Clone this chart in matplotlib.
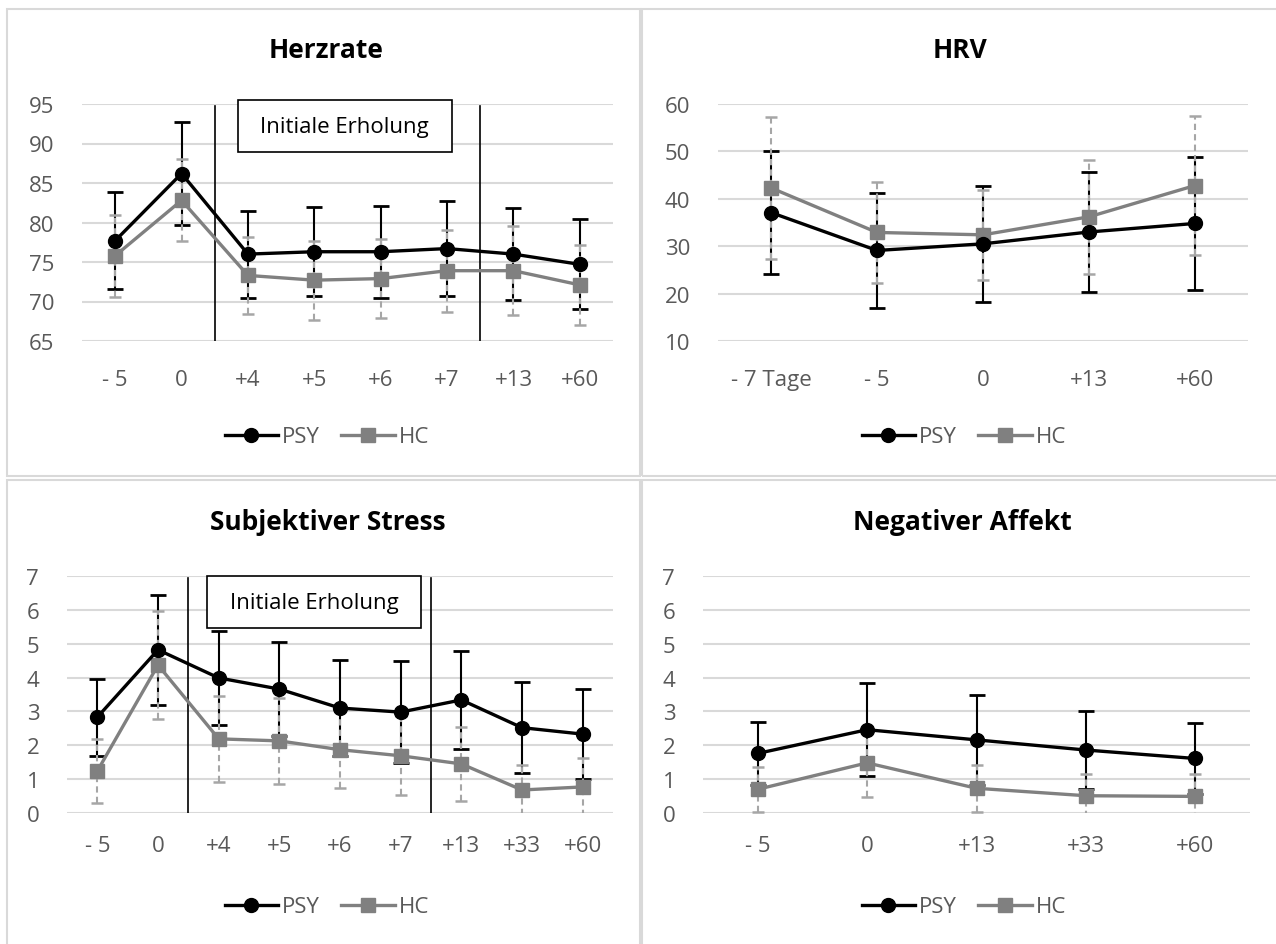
import matplotlib
matplotlib.use("Agg")
import matplotlib.pyplot as plt
from matplotlib.patches import Rectangle
from matplotlib.lines import Line2D

plt.rcParams['font.family'] = ['Open Sans', 'DejaVu Sans']

# ---------------- data ----------------
hr_cats = ["- 5", "0", "+4", "+5", "+6", "+7", "+13", "+60"]
hr_psy = [77.7, 86.2, 76.0, 76.3, 76.3, 76.7, 76.0, 74.7]
hr_psy_sd = [6.1, 6.5, 5.5, 5.6, 5.8, 6.0, 5.8, 5.7]
hr_hc = [75.8, 82.8, 73.3, 72.7, 72.9, 73.9, 73.9, 72.1]
hr_hc_sd = [5.2, 5.2, 4.9, 5.0, 5.0, 5.2, 5.6, 5.1]

hrv_cats = ["- 7 Tage", "- 5", "0", "+13", "+60"]
hrv_psy = [37.1, 29.1, 30.5, 33.0, 34.8]
hrv_psy_sd = [12.9, 12.05, 12.2, 12.75, 14.1]
hrv_hc = [42.3, 32.9, 32.4, 36.2, 42.8]
hrv_hc_sd = [15.0, 10.7, 9.5, 12.05, 14.7]

stress_cats = ["- 5", "0", "+4", "+5", "+6", "+7", "+13", "+33", "+60"]
stress_psy = [2.83, 4.82, 3.99, 3.66, 3.10, 2.98, 3.34, 2.52, 2.33]
stress_psy_sd = [1.14, 1.62, 1.40, 1.38, 1.43, 1.50, 1.45, 1.34, 1.33]
stress_hc = [1.24, 4.37, 2.19, 2.13, 1.87, 1.69, 1.45, 0.68, 0.77]
stress_hc_sd = [0.95, 1.60, 1.27, 1.27, 1.14, 1.17, 1.10, 0.73, 0.86]

neg_cats = ["- 5", "0", "+13", "+33", "+60"]
neg_psy = [1.76, 2.46, 2.16, 1.86, 1.61]
neg_psy_sd = [0.92, 1.38, 1.33, 1.16, 1.05]
neg_hc = [0.70, 1.48, 0.73, 0.51, 0.49]
neg_hc_sd = [0.67, 1.00, 0.70, 0.64, 0.66]

titles = ["Herzrate", "HRV", "Subjektiver Stress", "Negativer Affekt"]
series_names = ["PSY", "HC"]
box_label = "Initiale Erholung"

# ---------------- styling ----------------
W, H = 1276, 945
fig = plt.figure(figsize=(W / 100, H / 100), dpi=100)

PSY_C = "#000000"
HC_C = "#808080"
HC_ERR = "#a6a6a6"
GRID = "#d9d9d9"
TXT = "#595959"
FS = 16


def px_axes(x0, x1, ytop, ybot):
    return fig.add_axes([x0 / W, 1 - ybot / H, (x1 - x0) / W, (ybot - ytop) / H])


def panel(ax, cats, psy, psy_sd, hc, hc_sd, ylim, yticks, xpad):
    x = list(range(len(cats)))
    ax.errorbar(x, psy, yerr=psy_sd, fmt='none', ecolor=PSY_C, elinewidth=1.5,
                capsize=6, capthick=2, zorder=3)
    e2 = ax.errorbar(x, hc, yerr=hc_sd, fmt='none', ecolor=HC_ERR, elinewidth=1.5,
                     capsize=4.5, capthick=1.8, zorder=4)
    e2[2][0].set_linestyle((0, (3, 2)))
    ax.plot(x, hc, color=HC_C, lw=2.4, marker='s', ms=9.5, zorder=5)
    ax.plot(x, psy, color=PSY_C, lw=2.4, marker='o', ms=10, zorder=6)
    ax.set_xlim(-0.5, len(cats) - 0.5)
    ax.set_ylim(*ylim)
    ax.set_yticks(yticks)
    ax.set_xticks(x)
    ax.set_xticklabels(cats)
    ax.grid(axis='y', color=GRID, lw=1.5, zorder=0)
    ax.set_axisbelow(True)
    for s in ax.spines.values():
        s.set_visible(False)
    ax.tick_params(axis='both', length=0, labelsize=FS, labelcolor=TXT)
    ax.tick_params(axis='y', pad=20)
    ax.tick_params(axis='x', pad=xpad)
    ax.set_facecolor('none')


def recovery_marks(ax, x0, x1, y0, y1, n_lo, n_hi):
    ax.axvline(n_lo, color='black', lw=1.2, ymax=0.99, zorder=2)
    ax.axvline(n_hi, color='black', lw=1.2, ymax=0.99, zorder=2)
    ax.add_patch(Rectangle((x0, y0), x1 - x0, y1 - y0, fill=True, facecolor='white',
                           edgecolor='black', lw=1.2, clip_on=False, zorder=7))
    ax.text((x0 + x1) / 2, (y0 + y1) / 2, box_label, ha='center', va='center',
            fontsize=FS, color='black', zorder=8, clip_on=False)


# panel borders
for (x0, x1, y0, y1) in [(7, 640, 10, 477), (642, 1282, 10, 477),
                         (7, 640, 481, 960), (642, 1282, 481, 960)]:
    fig.patches.append(Rectangle((x0 / W, 1 - y1 / H), (x1 - x0) / W, (y1 - y0) / H,
                                 transform=fig.transFigure, fill=False,
                                 edgecolor=GRID, lw=1.5))

ax1 = px_axes(82, 613, 105, 342)
panel(ax1, hr_cats, hr_psy, hr_psy_sd, hr_hc, hr_hc_sd, (65, 95), range(65, 96, 5), 20)
recovery_marks(ax1, 1.85, 5.07, 88.9, 95.5, 1.5, 5.5)

ax2 = px_axes(718, 1248, 105, 342)
panel(ax2, hrv_cats, hrv_psy, hrv_psy_sd, hrv_hc, hrv_hc_sd, (10, 60), range(10, 61, 10), 20)

ax3 = px_axes(67, 613, 577, 814)
panel(ax3, stress_cats, stress_psy, stress_psy_sd, stress_hc, stress_hc_sd, (0, 7), range(0, 8), 16)
recovery_marks(ax3, 1.81, 5.33, 5.46, 7.0, 1.5, 5.5)

ax4 = px_axes(703, 1250, 577, 814)
panel(ax4, neg_cats, neg_psy, neg_psy_sd, neg_hc, neg_hc_sd, (0, 7), range(0, 8), 16)

# titles
for t, (cx, cy) in zip(titles, [(326, 51), (960, 51), (328, 523), (962, 523)]):
    fig.text(cx / W, 1 - cy / H, t, ha='center', va='center', fontsize=19,
             fontweight='bold', color='black')

# legends
handles = [Line2D([], [], color=PSY_C, lw=2.4, marker='o', ms=10),
           Line2D([], [], color=HC_C, lw=2.4, marker='s', ms=9.5)]
for (cx, cy) in [(327, 438), (964, 438), (327, 908), (964, 908)]:
    fig.legend(handles, series_names, loc='center', bbox_to_anchor=(cx / W, 1 - cy / H),
               ncol=2, frameon=False, fontsize=FS, handlelength=2.4,
               handletextpad=0.2, columnspacing=0.95, labelcolor=TXT)

fig.savefig("out.png", dpi=100)
